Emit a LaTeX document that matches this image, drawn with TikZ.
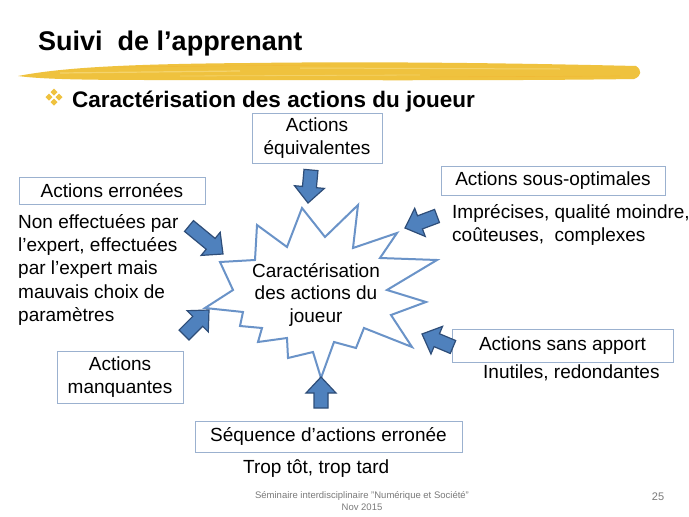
\documentclass[tikz,border=0pt]{standalone}
\usepackage{fontspec}
\setmainfont{Liberation Sans}
\usetikzlibrary{calc}
\definecolor{boxline}{HTML}{9BB1CF}
\definecolor{starline}{HTML}{6A93C8}
\definecolor{arrowfill}{HTML}{4F81BD}
\definecolor{arrowline}{HTML}{2E4D78}
\definecolor{brushyellow}{HTML}{EFC23E}
\definecolor{brushlight}{HTML}{F6D878}
\definecolor{footgray}{HTML}{7A7A7A}
\newcommand{\blockarrow}[2]{%
  \coordinate (bah) at ($(#2)!16pt!(#1)$);
  \draw[blockarrowstyle] ($(#1)!7pt!90:(#2)$) -- ($(bah)!7pt!90:(#2)$) -- ($(bah)!15pt!90:(#2)$) -- (#2)
    -- ($(bah)!15pt!-90:(#2)$) -- ($(bah)!7pt!-90:(#2)$) -- ($(#1)!7pt!-90:(#2)$) -- cycle;}
\tikzset{
  labelbox/.style={draw=boxline, line width=0.9pt, inner sep=0pt, align=center,
    font=\fontsize{19}{23.3}\selectfont},
  bodytext/.style={inner sep=0pt, align=left, font=\fontsize{19}{23.3}\selectfont},
  blockarrowstyle/.style={fill=arrowfill, draw=arrowline, line width=1.2pt, line join=miter},
  starstyle/.style={draw=starline, fill=white, line width=2pt, line join=miter},
  footer/.style={text=footgray, inner sep=0pt, align=center}
}
\begin{document}
\begin{tikzpicture}[x=1pt,y=-1pt]
\useasboundingbox[fill=white] (0,0) rectangle (689,517);

% title
\node[anchor=base west, inner sep=0pt, font=\fontsize{27}{32}\selectfont\bfseries] (title) at (38,50) {Suivi\ \ de l’apprenant};

% brush stroke
\fill[brushyellow] (18,76) .. controls (60,68) and (120,64) .. (250,63)
  .. controls (400,61) and (550,64) .. (636,66)
  .. controls (642,70) and (642,76) .. (634,79)
  .. controls (500,81) and (300,80) .. (150,80)
  .. controls (80,80) and (40,79) .. (18,76) -- cycle;
\draw[brushlight, line width=1.2pt, opacity=0.8] (60,73) -- (240,71);
\draw[brushlight, line width=1pt, opacity=0.8] (300,68) -- (560,69);
\draw[brushlight, line width=0.8pt, opacity=0.7] (180,76) -- (420,75);
\draw[brushyellow!80!orange, line width=0.6pt, opacity=0.6] (120,67) -- (330,65);
\draw[brushyellow!80!orange, line width=0.6pt, opacity=0.6] (430,77) -- (620,76);

% bullet (four diamonds)
\foreach \dx/\dy in {0/-5, -5/0, 5/0, 0/5}{
  \fill[brushyellow] ($(54,97)+(\dx,\dy)$) +(0,-3.5) -- +(3.5,0) -- +(0,3.5) -- +(-3.5,0) -- cycle;
}
\node[anchor=base west, inner sep=0pt, font=\fontsize{22.5}{27}\selectfont\bfseries] (subtitle) at (72,107) {Caractérisation des actions du joueur};

% star
\draw[starstyle] (257,225) -- (287,247) -- (302,208) -- (325,237) -- (358,205) -- (353,248)
  -- (397,233) -- (380,258) -- (437,260) -- (387,290) -- (426,302) -- (391,315)
  -- (412,347) -- (364,328) -- (356,348) -- (334,342) -- (321,378) -- (313,352)
  -- (288,358) -- (287,338) -- (258,342) -- (262,328) -- (240,326) -- (243,312)
  -- (205,308) -- (233,290) -- (220,262) -- (255,260) -- cycle;
\node[inner sep=0pt, align=center, font=\fontsize{19}{22.5}\selectfont, anchor=north] (center) at (316,263)
  {Caractérisation\\des actions du\\joueur};

% boxes
\node[labelbox, minimum width=130pt, minimum height=50pt] (equiv) at (317,138) {Actions\\équivalentes};
\node[labelbox, minimum width=186pt, minimum height=27pt] (erron) at (112,190.5) {Actions erronées};
\node[labelbox, minimum width=126pt, minimum height=52pt] (manq) at (120,377) {Actions\\manquantes};
\node[labelbox, minimum width=224pt, minimum height=29pt] (sousopt) at (553,180.5) {Actions sous-optimales};
\node[labelbox, minimum width=221pt, minimum height=33pt] (sansapp) at (562.5,345.5) {Actions sans apport};
\node[labelbox, minimum width=267pt, minimum height=31pt] (sequ) at (328.5,436.5) {Séquence d’actions erronée};

% descriptions
\node[bodytext, anchor=north west] (errdesc) at (18,214) {Non effectuées par\\l’expert, effectuées\\par l’expert mais\\mauvais choix de\\paramètres};
\node[bodytext, anchor=north west] (sousdesc) at (452,204) {Imprécises, qualité moindre,\\coûteuses,\ \ complexes};
\node[bodytext, anchor=north west] (sansdesc) at (483,365) {Inutiles, redondantes};
\node[bodytext, anchor=north west] (seqdesc) at (243,459) {Trop tôt, trop tard};

% arrows
\coordinate (eqA) at (311,170);  \coordinate (eqB) at (308,203);
\coordinate (erA) at (189,226);  \coordinate (erB) at (223,254);
\coordinate (maA) at (184,335);  \coordinate (maB) at (209,310);
\coordinate (soA) at (437,216);  \coordinate (soB) at (405,228);
\coordinate (saA) at (453,347);  \coordinate (saB) at (422,334);
\coordinate (sqA) at (321,408);  \coordinate (sqB) at (321,377);
\blockarrow{eqA}{eqB}
\blockarrow{erA}{erB}
\blockarrow{maA}{maB}
\blockarrow{soA}{soB}
\blockarrow{saA}{saB}
\blockarrow{sqA}{sqB}

% footer
\node[footer, font=\fontsize{9.5}{12}\selectfont] (foot) at (362,501) {Séminaire interdisciplinaire "Numérique et Société"\\Nov 2015};
\node[footer, font=\fontsize{11}{13}\selectfont] (page) at (658,497) {25};
\end{tikzpicture}
\end{document}
